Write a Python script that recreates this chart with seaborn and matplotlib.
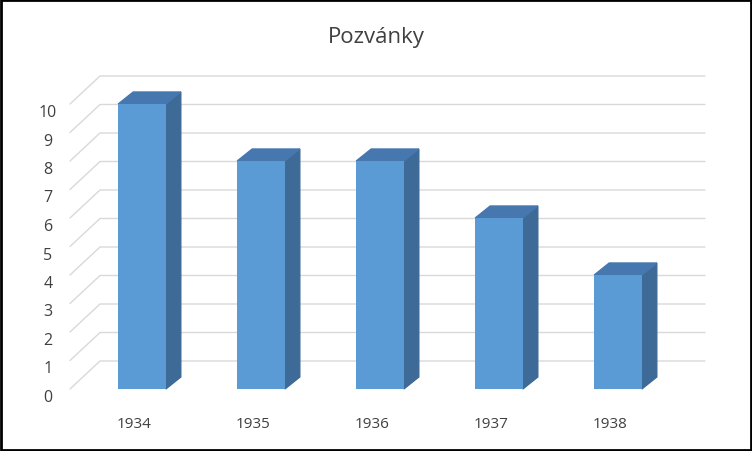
import matplotlib
matplotlib.use("Agg")
import matplotlib.pyplot as plt
import seaborn as sns
import pandas as pd
from matplotlib.patches import Polygon, Rectangle

years = ["1934", "1935", "1936", "1937", "1938"]
values = [10, 8, 8, 6, 4]
yticks = list(range(0, 11))
title = "Pozvánky"

sns.set_style("white")
plt.rcParams['font.family'] = ['Open Sans', 'DejaVu Sans']

fig = plt.figure(figsize=(7.52, 4.52), dpi=100)
ax = fig.add_axes([0, 0, 1, 1])
pxx, pxy = 119.0, 28.5
ax.set_xlim(-142 / pxx, (752 - 142) / pxx)
ax.set_ylim(-62 / pxy, 390 / pxy)
ax.axis("off")

# walls/gridlines
wx, wy = 30 / pxx, 28 / pxy
x0, x1 = (70 - 142) / pxx, (675 - 142) / pxx
for v in yticks:
    ax.plot([x0, x0 + wx, x1 + wx], [v, v + wy, v + wy], color="#d9d9d9", lw=1, zorder=0)

df = pd.DataFrame({"year": years, "value": values})
bw = 0.4
sns.barplot(data=df, x="year", y="value", width=bw, color="#5B9BD5",
            saturation=1, ax=ax, zorder=3, edgecolor="none")
ax.set_xlim(-142 / pxx, (752 - 142) / pxx)
ax.set_ylim(-62 / pxy, 390 / pxy)
ax.axis("off")

dx, dy = 15 / pxx, 12 / pxy
for i, v in enumerate(values):
    l, r = i - bw / 2, i + bw / 2
    ax.add_patch(Polygon([(r, 0), (r + dx, dy), (r + dx, v + dy), (r, v)],
                         closed=True, color="#3D6A96", zorder=2))
    ax.add_patch(Polygon([(l, v), (l + dx, v + dy), (r + dx, v + dy), (r, v)],
                         closed=True, color="#4677AE", zorder=2))
    ax.text(i - 0.07, -35 / pxy, years[i], ha="center", va="center",
            fontsize=11, color="#404040")

for v in yticks:
    ax.text((48 - 142) / pxx, v - 8 / pxy, str(v), ha="center", va="center",
            fontsize=11.5, color="#404040")

fig.text(376 / 752, 1 - 38 / 452, title, ha="center", va="center",
         fontsize=16, color="#404040")
fig.add_artist(Rectangle((0.0015, 0.0025), 0.997, 0.995, transform=fig.transFigure,
                         fill=False, edgecolor="black", lw=2))
fig.savefig("out.png", dpi=100)
